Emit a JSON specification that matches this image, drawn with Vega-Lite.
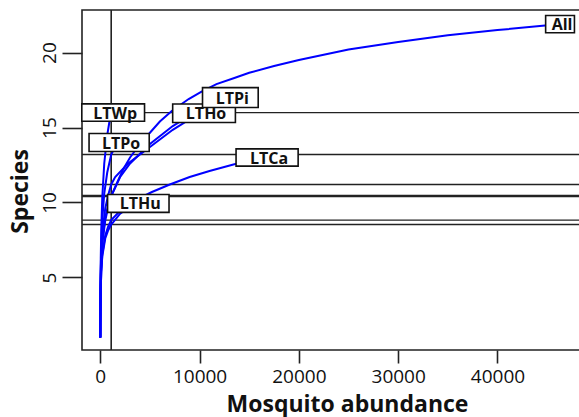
{
  "$schema": "https://vega.github.io/schema/vega-lite/v6.json",
  "width": 498,
  "height": 340,
  "autosize": "none",
  "padding": {"left": 82, "top": 10, "right": 0, "bottom": 67},
  "background": "white",
  "config": {
    "view": {"stroke": "#222222", "strokeWidth": 1.6},
    "axis": {"grid": false, "domain": false, "tickColor": "#222222", "tickWidth": 1.6, "labelColor": "#111111", "titleColor": "#111111", "labelFont": "Open Sans", "titleFont": "Open Sans", "labelFontSize": 19, "titleFontSize": 23, "titleFontWeight": "bold"}
  },
  "datasets": {
    "curves": [
      {"site": "All", "n": 1, "S": 1}, {"site": "All", "n": 5, "S": 1.9}, {"site": "All", "n": 20, "S": 3.4}, {"site": "All", "n": 50, "S": 4.8}, {"site": "All", "n": 100, "S": 6.0}, {"site": "All", "n": 200, "S": 7.2}, {"site": "All", "n": 500, "S": 8.8}, {"site": "All", "n": 800, "S": 9.7}, {"site": "All", "n": 1100, "S": 10.42}, {"site": "All", "n": 1750, "S": 11.4}, {"site": "All", "n": 2300, "S": 12.2}, {"site": "All", "n": 3000, "S": 13.0}, {"site": "All", "n": 4000, "S": 13.9}, {"site": "All", "n": 4800, "S": 14.5}, {"site": "All", "n": 6000, "S": 15.4}, {"site": "All", "n": 7200, "S": 16.1}, {"site": "All", "n": 8900, "S": 16.9}, {"site": "All", "n": 10200, "S": 17.4}, {"site": "All", "n": 11700, "S": 17.9}, {"site": "All", "n": 13500, "S": 18.3}, {"site": "All", "n": 15000, "S": 18.65}, {"site": "All", "n": 17500, "S": 19.1}, {"site": "All", "n": 20000, "S": 19.5}, {"site": "All", "n": 25000, "S": 20.2}, {"site": "All", "n": 30000, "S": 20.7}, {"site": "All", "n": 35000, "S": 21.15}, {"site": "All", "n": 40000, "S": 21.5}, {"site": "All", "n": 44800, "S": 21.8}, {"site": "All", "n": 46300, "S": 21.9},
      {"site": "LTPi", "n": 1, "S": 1}, {"site": "LTPi", "n": 5, "S": 1.9}, {"site": "LTPi", "n": 20, "S": 3.5}, {"site": "LTPi", "n": 50, "S": 5.0}, {"site": "LTPi", "n": 100, "S": 6.2}, {"site": "LTPi", "n": 200, "S": 7.4}, {"site": "LTPi", "n": 500, "S": 9.0}, {"site": "LTPi", "n": 800, "S": 9.8}, {"site": "LTPi", "n": 1100, "S": 10.42}, {"site": "LTPi", "n": 2000, "S": 11.7}, {"site": "LTPi", "n": 3000, "S": 12.6}, {"site": "LTPi", "n": 5000, "S": 13.9}, {"site": "LTPi", "n": 7300, "S": 15.1}, {"site": "LTPi", "n": 9000, "S": 15.8}, {"site": "LTPi", "n": 10500, "S": 16.3}, {"site": "LTPi", "n": 12000, "S": 16.75}, {"site": "LTPi", "n": 13100, "S": 17.0},
      {"site": "LTHo", "n": 1, "S": 1}, {"site": "LTHo", "n": 5, "S": 2.0}, {"site": "LTHo", "n": 20, "S": 3.7}, {"site": "LTHo", "n": 50, "S": 5.3}, {"site": "LTHo", "n": 100, "S": 6.6}, {"site": "LTHo", "n": 200, "S": 7.9}, {"site": "LTHo", "n": 500, "S": 9.6}, {"site": "LTHo", "n": 800, "S": 10.5}, {"site": "LTHo", "n": 1100, "S": 11.2}, {"site": "LTHo", "n": 1500, "S": 11.7}, {"site": "LTHo", "n": 2800, "S": 12.6}, {"site": "LTHo", "n": 5000, "S": 13.7}, {"site": "LTHo", "n": 7300, "S": 14.85}, {"site": "LTHo", "n": 8500, "S": 15.35}, {"site": "LTHo", "n": 10450, "S": 15.95},
      {"site": "LTCa", "n": 1, "S": 1}, {"site": "LTCa", "n": 5, "S": 1.8}, {"site": "LTCa", "n": 20, "S": 3.0}, {"site": "LTCa", "n": 50, "S": 4.3}, {"site": "LTCa", "n": 100, "S": 5.4}, {"site": "LTCa", "n": 200, "S": 6.5}, {"site": "LTCa", "n": 500, "S": 7.8}, {"site": "LTCa", "n": 800, "S": 8.4}, {"site": "LTCa", "n": 1100, "S": 8.82}, {"site": "LTCa", "n": 2000, "S": 9.45}, {"site": "LTCa", "n": 2800, "S": 9.85}, {"site": "LTCa", "n": 4000, "S": 10.3}, {"site": "LTCa", "n": 5200, "S": 10.7}, {"site": "LTCa", "n": 7000, "S": 11.2}, {"site": "LTCa", "n": 9000, "S": 11.7}, {"site": "LTCa", "n": 11000, "S": 12.1}, {"site": "LTCa", "n": 13500, "S": 12.55}, {"site": "LTCa", "n": 15000, "S": 12.75}, {"site": "LTCa", "n": 16800, "S": 13.0},
      {"site": "LTHu", "n": 1, "S": 1}, {"site": "LTHu", "n": 5, "S": 1.8}, {"site": "LTHu", "n": 20, "S": 3.0}, {"site": "LTHu", "n": 50, "S": 4.3}, {"site": "LTHu", "n": 100, "S": 5.3}, {"site": "LTHu", "n": 200, "S": 6.4}, {"site": "LTHu", "n": 500, "S": 7.6}, {"site": "LTHu", "n": 800, "S": 8.15}, {"site": "LTHu", "n": 1100, "S": 8.53}, {"site": "LTHu", "n": 2000, "S": 9.25}, {"site": "LTHu", "n": 3000, "S": 9.7}, {"site": "LTHu", "n": 3830, "S": 10.0},
      {"site": "LTPo", "n": 1, "S": 1}, {"site": "LTPo", "n": 5, "S": 2.0}, {"site": "LTPo", "n": 20, "S": 3.8}, {"site": "LTPo", "n": 50, "S": 5.5}, {"site": "LTPo", "n": 100, "S": 7.0}, {"site": "LTPo", "n": 200, "S": 8.8}, {"site": "LTPo", "n": 400, "S": 10.6}, {"site": "LTPo", "n": 700, "S": 12.0}, {"site": "LTPo", "n": 1100, "S": 13.2}, {"site": "LTPo", "n": 1500, "S": 13.7}, {"site": "LTPo", "n": 1900, "S": 14.0},
      {"site": "LTWp", "n": 1, "S": 1}, {"site": "LTWp", "n": 5, "S": 2.1}, {"site": "LTWp", "n": 20, "S": 4.2}, {"site": "LTWp", "n": 50, "S": 6.3}, {"site": "LTWp", "n": 100, "S": 8.2}, {"site": "LTWp", "n": 200, "S": 10.3}, {"site": "LTWp", "n": 400, "S": 12.6}, {"site": "LTWp", "n": 700, "S": 14.5}, {"site": "LTWp", "n": 900, "S": 15.3}, {"site": "LTWp", "n": 1100, "S": 16.0}
    ],
    "ends": [
      {"site": "All", "n": 46300, "S": 21.9},
      {"site": "LTHo", "n": 10450, "S": 15.95},
      {"site": "LTPi", "n": 13100, "S": 17.0},
      {"site": "LTWp", "n": 1300, "S": 16.0},
      {"site": "LTPo", "n": 1900, "S": 14.0},
      {"site": "LTCa", "n": 16800, "S": 13.0},
      {"site": "LTHu", "n": 3830, "S": 9.94}
    ],
    "hlines": [
      {"rarefied": 16.0}, {"rarefied": 13.2}, {"rarefied": 11.2}, {"rarefied": 10.39}, {"rarefied": 10.47}, {"rarefied": 8.82}, {"rarefied": 8.53}
    ],
    "vlines": [{"sample": 1100}]
  },
  "layer": [
    {
      "data": {"name": "hlines"},
      "mark": {"type": "rule", "color": "#222222", "strokeWidth": 1.3},
      "encoding": {"y": {"field": "rarefied", "type": "quantitative", "scale": {"domain": [0.16, 22.84], "nice": false, "zero": false}}}
    },
    {
      "data": {"name": "vlines"},
      "mark": {"type": "rule", "color": "#222222", "strokeWidth": 1.6},
      "encoding": {"x": {"field": "sample", "type": "quantitative", "scale": {"domain": [-1840, 48310], "nice": false, "zero": false}}}
    },
    {
      "data": {"name": "curves"},
      "mark": {"type": "line", "color": "#0000ff", "strokeWidth": 2},
      "encoding": {
        "x": {"field": "n", "type": "quantitative", "scale": {"domain": [-1840, 48310], "nice": false, "zero": false},
              "axis": {"values": [0, 10000, 20000, 30000, 40000], "tickSize": 13, "labelPadding": 4, "title": "Mosquito abundance", "titleX": 265, "titleY": 61, "titleBaseline": "alphabetic", "labelFlush": false, "format": "d"}},
        "y": {"field": "S", "type": "quantitative", "scale": {"domain": [0.16, 22.84], "nice": false, "zero": false},
              "axis": {"values": [5, 10, 15, 20], "tickSize": 20, "labelAngle": -90, "labelPadding": 3, "title": "Species", "titleX": -55, "titleY": 181, "titleAngle": -90, "titleBaseline": "alphabetic", "labelFlush": false}},
        "detail": {"field": "site"}
      }
    },
    {
      "data": {"name": "ends"},
      "mark": {"type": "point", "filled": true, "fill": "white", "stroke": "#111111", "strokeWidth": 1.6, "opacity": 1, "size": 4096},
      "encoding": {
        "x": {"field": "n", "type": "quantitative"},
        "y": {"field": "S", "type": "quantitative"},
        "shape": {"field": "site", "type": "nominal", "legend": null,
                  "scale": {"domain": ["All", "LTPi", "LTHo", "LTWp", "LTPo", "LTCa", "LTHu"],
                            "range": ["M-0.45,-0.27H0.45V0.27H-0.45Z", "M-0.87,-0.31H0.87V0.31H-0.87Z", "M-0.98,-0.29H0.98V0.29H-0.98Z", "M-0.98,-0.27H0.98V0.27H-0.98Z", "M-0.94,-0.28H0.94V0.28H-0.94Z", "M-0.97,-0.27H0.97V0.27H-0.97Z", "M-0.96,-0.28H0.96V0.28H-0.96Z"]}}
      }
    },
    {
      "data": {"name": "ends"},
      "mark": {"type": "text", "font": "Open Sans", "fontWeight": "bold", "fontSize": 16, "color": "#111111", "align": "center", "baseline": "middle", "dx": 2, "dy": 1},
      "encoding": {
        "x": {"field": "n", "type": "quantitative"},
        "y": {"field": "S", "type": "quantitative"},
        "text": {"field": "site"}
      }
    }
  ]
}
